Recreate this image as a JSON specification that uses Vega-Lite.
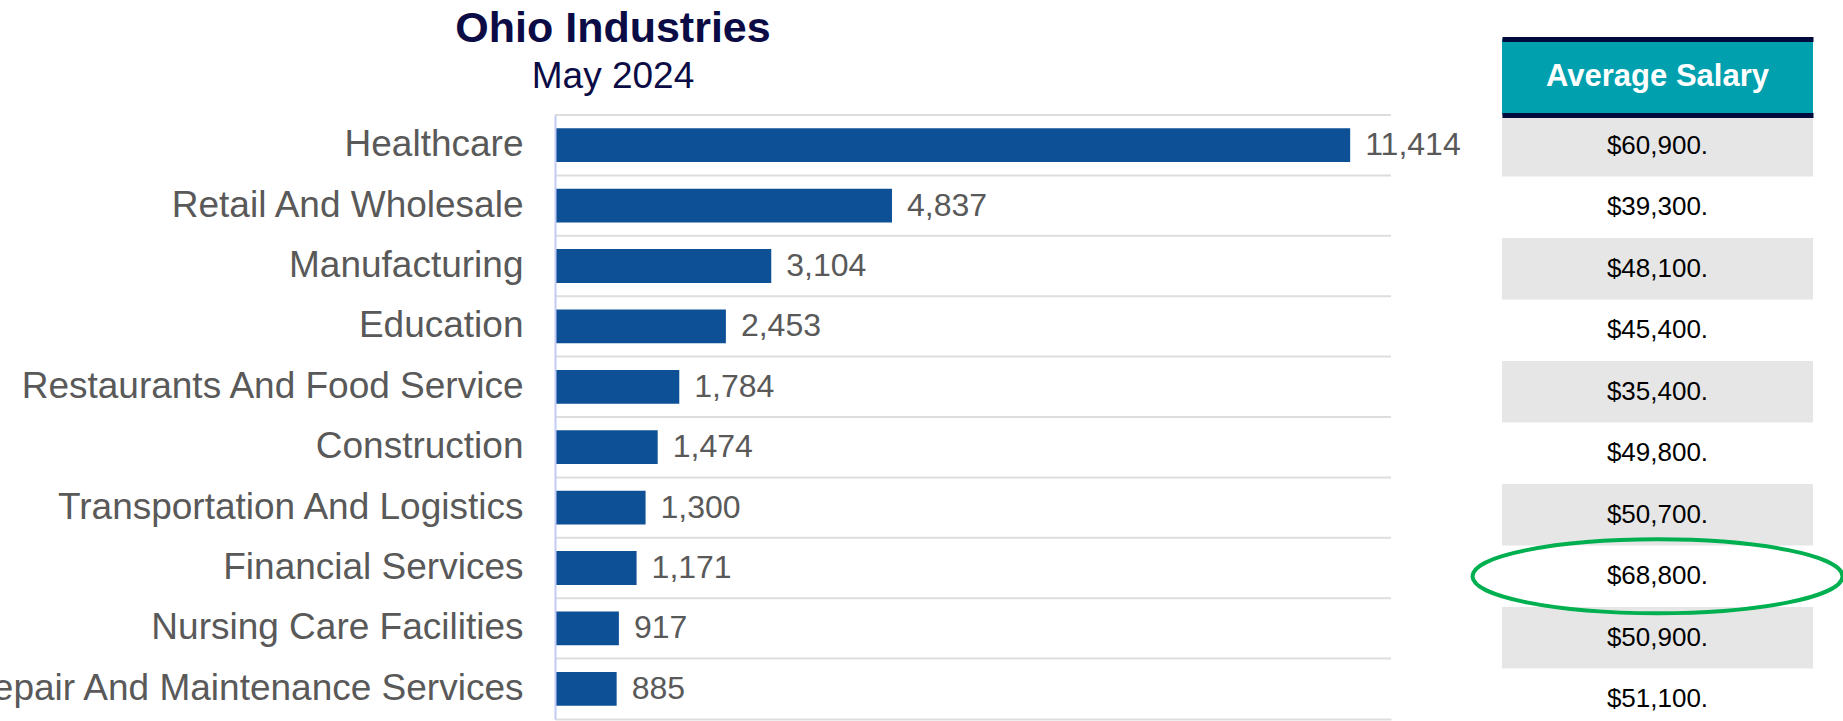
{
  "$schema": "https://vega.github.io/schema/vega-lite/v6.json",
  "autosize": {"type": "pad"},
  "padding": {"left": -37, "top": 8, "right": 0, "bottom": 0},
  "background": "white",
  "config": {
    "font": "Liberation Sans",
    "view": {"stroke": null},
    "locale": {"number": {"decimal": ".", "thousands": ",", "grouping": [3], "currency": ["$", "."]}}
  },
  "datasets": {
    "jobs": [
      {"industry": "Healthcare", "employees": 11414, "salary": 60900},
      {"industry": "Retail And Wholesale", "employees": 4837, "salary": 39300},
      {"industry": "Manufacturing", "employees": 3104, "salary": 48100},
      {"industry": "Education", "employees": 2453, "salary": 45400},
      {"industry": "Restaurants And Food Service", "employees": 1784, "salary": 35400},
      {"industry": "Construction", "employees": 1474, "salary": 49800},
      {"industry": "Transportation And Logistics", "employees": 1300, "salary": 50700},
      {"industry": "Financial Services", "employees": 1171, "salary": 68800},
      {"industry": "Nursing Care Facilities", "employees": 917, "salary": 50900},
      {"industry": "Repair And Maintenance Services", "employees": 885, "salary": 51100}
    ],
    "header": [{"header": "Average Salary"}]
  },
  "bounds": "flush",
  "align": "each",
  "columns": 2,
  "spacing": {"row": 0, "column": 111},
  "concat": [
    {
      "width": 836,
      "height": 76,
      "data": {"values": []},
      "mark": "rect",
      "encoding": {}
    },
    {
      "width": 311,
      "height": 76,
      "data": {"name": "header"},
      "view": {"fill": "#00A0AF", "stroke": null},
      "mark": {"type": "text", "fontSize": 31, "fontWeight": "bold", "color": "#FFFFFF", "baseline": "middle"},
      "encoding": {
        "x": {
          "field": "header",
          "type": "nominal",
          "axis": {"orient": "top", "title": null, "labels": false, "ticks": false, "domainColor": "#000B3C", "domainWidth": 5, "zindex": 1}
        },
        "text": {"field": "header", "type": "nominal"}
      }
    },
    {
      "width": 836,
      "height": 604,
      "data": {"name": "jobs"},
      "title": {
        "text": "Ohio Industries",
        "subtitle": "May 2024",
        "fontSize": 43,
        "subtitleFontSize": 37,
        "fontWeight": "bold",
        "subtitleFontWeight": "normal",
        "font": "Liberation Sans",
        "subtitleFont": "Liberation Sans",
        "color": "#0B0C45",
        "subtitleColor": "#0B0C45",
        "anchor": "middle",
        "frame": "group",
        "dx": -360,
        "offset": 19,
        "subtitlePadding": 8
      },
      "resolve": {"scale": {"y": "independent"}},
      "layer": [
        {
          "mark": {"type": "rule", "color": "#DDDDDD", "strokeWidth": 2},
          "encoding": {
            "y": {
              "field": "industry",
              "type": "nominal",
              "sort": null,
              "bandPosition": 0,
              "scale": {
                "type": "band",
                "domain": ["Healthcare", "Retail And Wholesale", "Manufacturing", "Education", "Restaurants And Food Service", "Construction", "Transportation And Logistics", "Financial Services", "Nursing Care Facilities", "Repair And Maintenance Services"],
                "paddingInner": 0,
                "paddingOuter": 0
              },
              "axis": null
            }
          }
        },
        {
          "encoding": {
            "y": {
              "field": "industry",
              "type": "nominal",
              "sort": null,
              "scale": {
                "domain": ["Healthcare", "Retail And Wholesale", "Manufacturing", "Education", "Restaurants And Food Service", "Construction", "Transportation And Logistics", "Financial Services", "Nursing Care Facilities", "Repair And Maintenance Services"],
                "paddingInner": 0.44,
                "paddingOuter": 0.22
              },
              "axis": {
                "title": null,
                "ticks": false,
                "labelFontSize": 37,
                "labelColor": "#595959",
                "labelPadding": 32,
                "labelLimit": 900,
                "domainColor": "#C3CBF5",
                "domainWidth": 2,
                "grid": false,
                "zindex": 1
              }
            }
          },
          "layer": [
            {
              "mark": {"type": "bar", "color": "#0E5096"},
              "encoding": {
                "x": {
                  "field": "employees",
                  "type": "quantitative",
                  "scale": {"domain": [0, 12000]},
                  "axis": {"title": null, "labels": false, "ticks": false, "grid": false, "domainColor": "#DDDDDD", "domainWidth": 2}
                }
              }
            },
            {
              "mark": {"type": "text", "align": "left", "baseline": "middle", "dx": 15, "fontSize": 32, "color": "#595959"},
              "encoding": {
                "x": {"field": "employees", "type": "quantitative"},
                "text": {"field": "employees", "type": "quantitative", "format": ","}
              }
            }
          ]
        }
      ]
    },
    {
      "width": 311,
      "height": 615,
      "data": {"name": "jobs"},
      "encoding": {
        "x": {
          "datum": "Average Salary",
          "type": "nominal",
          "scale": {"paddingInner": 0, "paddingOuter": 0},
          "axis": {"orient": "top", "title": null, "labels": false, "ticks": false, "domainColor": "#000B3C", "domainWidth": 5, "zindex": 1}
        },
        "y": {
          "field": "industry",
          "type": "nominal",
          "sort": null,
          "scale": {
            "domain": ["Healthcare", "Retail And Wholesale", "Manufacturing", "Education", "Restaurants And Food Service", "Construction", "Transportation And Logistics", "Financial Services", "Nursing Care Facilities", "Repair And Maintenance Services"],
            "paddingInner": 0,
            "paddingOuter": 0
          },
          "axis": null
        }
      },
      "layer": [
        {
          "transform": [{"filter": {"field": "industry", "oneOf": ["Healthcare", "Manufacturing", "Restaurants And Food Service", "Transportation And Logistics", "Nursing Care Facilities"]}}],
          "mark": {"type": "rect", "color": "#E7E6E6"}
        },
        {
          "mark": {"type": "text", "fontSize": 26, "color": "#000000", "baseline": "middle"},
          "encoding": {
            "text": {"field": "salary", "type": "quantitative", "format": "$,.0f"}
          }
        },
        {
          "transform": [{"filter": {"field": "industry", "equal": "Financial Services"}}],
          "mark": {
            "type": "point",
            "shape": "M -1 0 A 1 0.2 0 1 1 1 0 A 1 0.2 0 1 1 -1 0 Z",
            "size": 136900,
            "filled": false,
            "stroke": "#00B050",
            "strokeWidth": 4,
            "opacity": 1
          }
        }
      ]
    }
  ]
}
